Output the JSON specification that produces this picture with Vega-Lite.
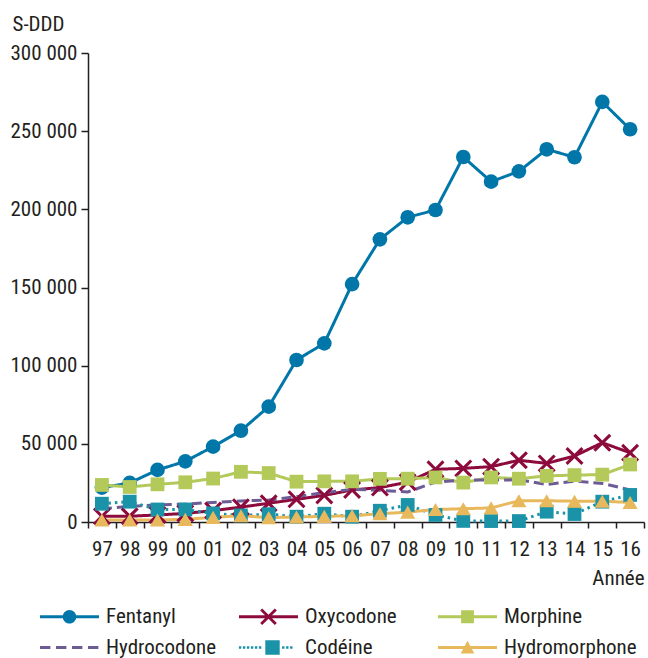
{
  "$schema": "https://vega.github.io/schema/vega-lite/v6.json",
  "width": 556,
  "height": 469,
  "autosize": "none",
  "padding": {"left": 88, "top": 53, "right": 4, "bottom": 136},
  "config": {
    "font": "Roboto Condensed, DejaVu Sans Condensed, sans-serif",
    "view": {"stroke": null},
    "axis": {"labelColor": "#231f20", "titleColor": "#231f20", "domainColor": "#231f20", "tickColor": "#231f20", "domainWidth": 1.5, "tickWidth": 1.5, "grid": false, "labelFontSize": 21, "titleFontSize": 21, "titleFontWeight": "normal"},
    "legend": {"labelColor": "#231f20"}
  },
  "datasets": {
    "main": [
      {"year": "97", "series": "Fentanyl", "value": 22000},
      {"year": "98", "series": "Fentanyl", "value": 25000},
      {"year": "99", "series": "Fentanyl", "value": 33300},
      {"year": "00", "series": "Fentanyl", "value": 38800},
      {"year": "01", "series": "Fentanyl", "value": 48200},
      {"year": "02", "series": "Fentanyl", "value": 58400},
      {"year": "03", "series": "Fentanyl", "value": 73800},
      {"year": "04", "series": "Fentanyl", "value": 103600},
      {"year": "05", "series": "Fentanyl", "value": 114300},
      {"year": "06", "series": "Fentanyl", "value": 152200},
      {"year": "07", "series": "Fentanyl", "value": 180800},
      {"year": "08", "series": "Fentanyl", "value": 194900},
      {"year": "09", "series": "Fentanyl", "value": 199600},
      {"year": "10", "series": "Fentanyl", "value": 233500},
      {"year": "11", "series": "Fentanyl", "value": 217700},
      {"year": "12", "series": "Fentanyl", "value": 224300},
      {"year": "13", "series": "Fentanyl", "value": 238400},
      {"year": "14", "series": "Fentanyl", "value": 233300},
      {"year": "15", "series": "Fentanyl", "value": 268700},
      {"year": "16", "series": "Fentanyl", "value": 251200},
      {"year": "97", "series": "Oxycodone", "value": 3600},
      {"year": "98", "series": "Oxycodone", "value": 3700},
      {"year": "99", "series": "Oxycodone", "value": 4500},
      {"year": "00", "series": "Oxycodone", "value": 5500},
      {"year": "01", "series": "Oxycodone", "value": 7300},
      {"year": "02", "series": "Oxycodone", "value": 9500},
      {"year": "03", "series": "Oxycodone", "value": 12000},
      {"year": "04", "series": "Oxycodone", "value": 14500},
      {"year": "05", "series": "Oxycodone", "value": 17000},
      {"year": "06", "series": "Oxycodone", "value": 20500},
      {"year": "07", "series": "Oxycodone", "value": 22000},
      {"year": "08", "series": "Oxycodone", "value": 25500},
      {"year": "09", "series": "Oxycodone", "value": 33700},
      {"year": "10", "series": "Oxycodone", "value": 34300},
      {"year": "11", "series": "Oxycodone", "value": 35400},
      {"year": "12", "series": "Oxycodone", "value": 39500},
      {"year": "13", "series": "Oxycodone", "value": 37500},
      {"year": "14", "series": "Oxycodone", "value": 42200},
      {"year": "15", "series": "Oxycodone", "value": 50700},
      {"year": "16", "series": "Oxycodone", "value": 44300},
      {"year": "97", "series": "Morphine", "value": 23700},
      {"year": "98", "series": "Morphine", "value": 22400},
      {"year": "99", "series": "Morphine", "value": 24100},
      {"year": "00", "series": "Morphine", "value": 25400},
      {"year": "01", "series": "Morphine", "value": 27800},
      {"year": "02", "series": "Morphine", "value": 32100},
      {"year": "03", "series": "Morphine", "value": 31300},
      {"year": "04", "series": "Morphine", "value": 25800},
      {"year": "05", "series": "Morphine", "value": 26000},
      {"year": "06", "series": "Morphine", "value": 26000},
      {"year": "07", "series": "Morphine", "value": 27600},
      {"year": "08", "series": "Morphine", "value": 27700},
      {"year": "09", "series": "Morphine", "value": 28500},
      {"year": "10", "series": "Morphine", "value": 25200},
      {"year": "11", "series": "Morphine", "value": 28500},
      {"year": "12", "series": "Morphine", "value": 27700},
      {"year": "13", "series": "Morphine", "value": 29500},
      {"year": "14", "series": "Morphine", "value": 30000},
      {"year": "15", "series": "Morphine", "value": 30300},
      {"year": "16", "series": "Morphine", "value": 36800},
      {"year": "97", "series": "Hydrocodone", "value": 8500},
      {"year": "98", "series": "Hydrocodone", "value": 10000},
      {"year": "99", "series": "Hydrocodone", "value": 11000},
      {"year": "00", "series": "Hydrocodone", "value": 11500},
      {"year": "01", "series": "Hydrocodone", "value": 12500},
      {"year": "02", "series": "Hydrocodone", "value": 13500},
      {"year": "03", "series": "Hydrocodone", "value": 14000},
      {"year": "04", "series": "Hydrocodone", "value": 16200},
      {"year": "05", "series": "Hydrocodone", "value": 18800},
      {"year": "06", "series": "Hydrocodone", "value": 20900},
      {"year": "07", "series": "Hydrocodone", "value": 20300},
      {"year": "08", "series": "Hydrocodone", "value": 19200},
      {"year": "09", "series": "Hydrocodone", "value": 25600},
      {"year": "10", "series": "Hydrocodone", "value": 26800},
      {"year": "11", "series": "Hydrocodone", "value": 26800},
      {"year": "12", "series": "Hydrocodone", "value": 27000},
      {"year": "13", "series": "Hydrocodone", "value": 24000},
      {"year": "14", "series": "Hydrocodone", "value": 26200},
      {"year": "15", "series": "Hydrocodone", "value": 24700},
      {"year": "16", "series": "Hydrocodone", "value": 20500},
      {"year": "97", "series": "Codéine", "value": 11700},
      {"year": "98", "series": "Codéine", "value": 13000},
      {"year": "99", "series": "Codéine", "value": 8000},
      {"year": "00", "series": "Codéine", "value": 8000},
      {"year": "01", "series": "Codéine", "value": 5500},
      {"year": "02", "series": "Codéine", "value": 4200},
      {"year": "03", "series": "Codéine", "value": 5000},
      {"year": "04", "series": "Codéine", "value": 3400},
      {"year": "05", "series": "Codéine", "value": 5300},
      {"year": "06", "series": "Codéine", "value": 3400},
      {"year": "07", "series": "Codéine", "value": 7200},
      {"year": "08", "series": "Codéine", "value": 10900},
      {"year": "09", "series": "Codéine", "value": 4500},
      {"year": "10", "series": "Codéine", "value": 700},
      {"year": "11", "series": "Codéine", "value": 600},
      {"year": "12", "series": "Codéine", "value": 600},
      {"year": "13", "series": "Codéine", "value": 6600},
      {"year": "14", "series": "Codéine", "value": 5100},
      {"year": "15", "series": "Codéine", "value": 13000},
      {"year": "16", "series": "Codéine", "value": 17300},
      {"year": "97", "series": "Hydromorphone", "value": 1300},
      {"year": "98", "series": "Hydromorphone", "value": 1300},
      {"year": "99", "series": "Hydromorphone", "value": 1300},
      {"year": "00", "series": "Hydromorphone", "value": 1700},
      {"year": "01", "series": "Hydromorphone", "value": 3000},
      {"year": "02", "series": "Hydromorphone", "value": 4000},
      {"year": "03", "series": "Hydromorphone", "value": 2800},
      {"year": "04", "series": "Hydromorphone", "value": 3200},
      {"year": "05", "series": "Hydromorphone", "value": 3600},
      {"year": "06", "series": "Hydromorphone", "value": 4000},
      {"year": "07", "series": "Hydromorphone", "value": 5300},
      {"year": "08", "series": "Hydromorphone", "value": 6300},
      {"year": "09", "series": "Hydromorphone", "value": 8000},
      {"year": "10", "series": "Hydromorphone", "value": 8500},
      {"year": "11", "series": "Hydromorphone", "value": 9000},
      {"year": "12", "series": "Hydromorphone", "value": 13600},
      {"year": "13", "series": "Hydromorphone", "value": 13600},
      {"year": "14", "series": "Hydromorphone", "value": 13300},
      {"year": "15", "series": "Hydromorphone", "value": 13300},
      {"year": "16", "series": "Hydromorphone", "value": 12500}
    ]
  },
  "data": {"name": "main"},
  "encoding": {
    "x": {
      "field": "year", "type": "ordinal", "bandPosition": 0.5,
      "scale": {"type": "band", "domain": ["97","98","99","00","01","02","03","04","05","06","07","08","09","10","11","12","13","14","15","16"], "paddingInner": 0, "paddingOuter": 0},
      "axis": {"title": "Année", "labelAngle": 0, "tickBand": "extent", "tickSize": 6, "labelPadding": 10, "titleX": 556, "titleY": 62, "titleAlign": "right", "titleAnchor": null, "titleBaseline": "alphabetic"}
    },
    "y": {
      "field": "value", "type": "quantitative",
      "scale": {"domain": [0, 300000], "nice": false},
      "axis": {"title": "S-DDD", "values": [0, 50000, 100000, 150000, 200000, 250000, 300000], "tickSize": 7, "labelPadding": 4, "labelExpr": "replace(format(datum.value, ','), ',', ' ')", "titleAngle": 0, "titleX": -76, "titleY": -23, "titleAlign": "left", "titleBaseline": "alphabetic", "titleAnchor": null}
    },
    "color": {
      "field": "series", "type": "nominal",
      "scale": {"domain": ["Fentanyl","Oxycodone","Morphine","Hydrocodone","Codéine","Hydromorphone"], "range": ["#0077a8","#8c0a3c","#b3c95a","#6d5b96","#1a93a8","#e8b85c"]}
    }
  },
  "layer": [
    {
      "transform": [{"filter": "datum.year === '97'"}],
      "mark": {"type": "point", "filled": true, "opacity": 1, "size": 0, "strokeWidth": 0},
      "encoding": {
        "color": {
          "field": "series", "type": "nominal",
          "legend": {"title": null, "orient": "none", "legendX": -48, "legendY": 553, "columns": 3, "direction": "horizontal", "gridAlign": "all", "columnPadding": -6, "rowPadding": 9, "symbolSize": 256, "symbolStrokeWidth": 0, "symbolOpacity": 1, "symbolOffset": 19, "labelOffset": 26, "labelFontSize": 21, "labelLimit": 300}
        },
        "shape": {
          "field": "series", "type": "nominal",
          "scale": {"domain": ["Fentanyl","Oxycodone","Morphine","Hydrocodone","Codéine","Hydromorphone"], "range": [
            "M-3.69,-0.18H3.69V0.18H-3.69Z M0.85,0A0.85,0.85,0,1,1,-0.85,0A0.85,0.85,0,1,1,0.85,0Z",
            "M-3.69,-0.18H3.69V0.18H-3.69Z M-1.04,-0.79L-0.79,-1.04L0,-0.25L0.79,-1.04L1.04,-0.79L0.25,0L1.04,0.79L0.79,1.04L0,0.25L-0.79,1.04L-1.04,0.79L-0.25,0Z",
            "M-3.69,-0.18H3.69V0.18H-3.69Z M-0.8,-0.8H0.8V0.8H-0.8Z",
            "M-3.69,-0.18H-2.39V0.18H-3.69Z M-1.69,-0.18H-0.39V0.18H-1.69Z M0.31,-0.18H1.61V0.18H0.31Z M2.31,-0.18H3.61V0.18H2.31Z",
            "M-3.7,-0.15H-3.4V0.15H-3.7Z M-3.2,-0.15H-2.9V0.15H-3.2Z M-2.7,-0.15H-2.4V0.15H-2.7Z M-2.2,-0.15H-1.9V0.15H-2.2Z M-1.7,-0.15H-1.4V0.15H-1.7Z M-1.2,-0.15H-0.9V0.15H-1.2Z M-0.4,-0.9H1.4V0.9H-0.4Z M1.7,-0.15H2V0.15H1.7Z M2.2,-0.15H2.5V0.15H2.2Z M2.7,-0.15H3V0.15H2.7Z",
            "M-3.69,-0.18H3.69V0.18H-3.69Z M0,-0.85L0.85,0.75L-0.85,0.75Z"
          ]},
          "legend": {"title": null, "orient": "none", "legendX": -48, "legendY": 553, "columns": 3, "direction": "horizontal", "gridAlign": "all", "columnPadding": -6, "rowPadding": 9, "symbolSize": 256, "symbolStrokeWidth": 0, "symbolOpacity": 1, "symbolOffset": 19, "labelOffset": 26, "labelFontSize": 21, "labelLimit": 300}
        }
      }
    },
    {
      "mark": {"type": "line", "strokeWidth": 3},
      "encoding": {
        "strokeDash": {
          "field": "series", "type": "nominal",
          "scale": {"domain": ["Fentanyl","Oxycodone","Morphine","Hydrocodone","Codéine","Hydromorphone"], "range": [[1,0],[1,0],[1,0],[10,5],[2.5,4],[1,0]]}
        }
      }
    },
    {
      "transform": [{"filter": "datum.series === 'Fentanyl'"}],
      "mark": {"type": "point", "shape": "circle", "filled": true, "opacity": 1, "size": 215, "strokeWidth": 0}
    },
    {
      "transform": [{"filter": "datum.series === 'Oxycodone'"}],
      "mark": {"type": "point", "shape": "M-1,-0.76L-0.76,-1L0,-0.24L0.76,-1L1,-0.76L0.24,0L1,0.76L0.76,1L0,0.24L-0.76,1L-1,0.76L-0.24,0Z", "filled": true, "opacity": 1, "size": 324, "strokeWidth": 0}
    },
    {
      "transform": [{"filter": "datum.series === 'Morphine' || datum.series === 'Codéine'"}],
      "mark": {"type": "point", "shape": "square", "filled": true, "opacity": 1, "size": 190, "strokeWidth": 0}
    },
    {
      "transform": [{"filter": "datum.series === 'Hydromorphone'"}],
      "mark": {"type": "point", "shape": "triangle-up", "filled": true, "opacity": 1, "size": 230, "strokeWidth": 0}
    }
  ]
}
